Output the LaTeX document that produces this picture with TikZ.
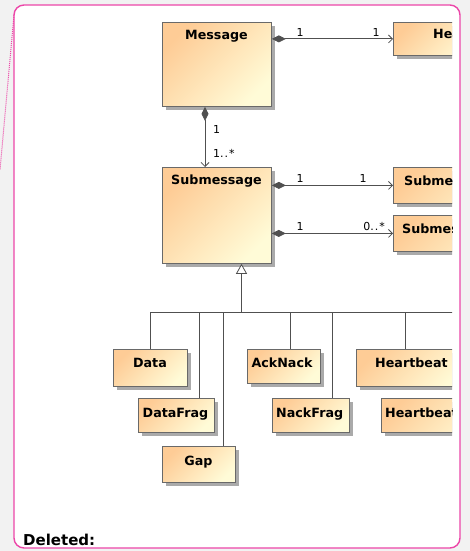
\documentclass[tikz,border=0pt]{standalone}
\usepackage{fontspec}
\setmainfont{DejaVu Sans}
\usetikzlibrary{arrows.meta,shadows}
\definecolor{boxtop}{RGB}{254,204,150}
\definecolor{boxbot}{RGB}{255,251,215}
\definecolor{boxline}{RGB}{105,105,105}
\definecolor{shad}{RGB}{170,170,170}
\definecolor{conn}{RGB}{80,80,80}
\definecolor{framepink}{RGB}{236,70,168}
\definecolor{outside}{RGB}{242,242,242}
\begin{document}
\begin{tikzpicture}[x=1pt,y=-1pt,
  umlbox/.style={draw=boxline, line width=0.8pt, top color=boxtop, bottom color=boxbot, shading angle=45,
    anchor=north west, inner sep=0pt,
    general shadow={fill=shad, shadow xshift=4pt, shadow yshift=-4pt}},
  boxname/.style={font=\bfseries\fontsize{12.7}{15}\selectfont, inner sep=0pt},
  mult/.style={font=\fontsize{11}{13}\selectfont, inner sep=0pt},
  comp/.style={draw=conn, line width=0.8pt, {Diamond[length=14pt,width=7pt]}-{Straight Barb[length=4pt,width=8pt]}},
  gen/.style={draw=conn, line width=0.8pt, -{Triangle[open,length=10pt,width=11pt,fill=white]}},
  tree/.style={draw=conn, line width=0.8pt}]
\useasboundingbox (0,0) rectangle (470,551);
\fill[outside] (0,0) rectangle (470,551);
\draw[framepink, line width=1.4pt, fill=white, rounded corners=10pt] (14,5) rectangle (460,548);
\draw[framepink, line width=1pt, dash pattern=on 1pt off 1pt] (14,15) -- (0,170);
\begin{scope}
\clip (0,0) rectangle (452,551);
% boxes
\node[umlbox, minimum width=109pt, minimum height=84pt] (msg) at (162,22) {};
\node[umlbox, minimum width=90pt, minimum height=33pt] (hdr) at (393,22) {};
\node[umlbox, minimum width=109pt, minimum height=96pt] (sub) at (162,167) {};
\node[umlbox, minimum width=140pt, minimum height=36pt] (sm1) at (393,167) {};
\node[umlbox, minimum width=140pt, minimum height=36pt] (sm2) at (393,215) {};
% tree lines
\coordinate (hub) at (241.5,312);
\coordinate (busend) at (470,312);
\coordinate (dfragc) at (199,398);
\coordinate (gapc) at (223,446);
\coordinate (ackc) at (290,349);
\coordinate (nackc) at (332,398);
\coordinate (hbc) at (405,349);
\coordinate (datac) at (150,349);
\draw[tree] (datac) -- (datac |- hub) -- (busend);
\draw[tree] (dfragc) -- (dfragc |- hub);
\draw[tree] (gapc) -- (gapc |- hub);
\draw[tree] (ackc) -- (ackc |- hub);
\draw[tree] (nackc) -- (nackc |- hub);
\draw[tree] (hbc) -- (hbc |- hub);
\draw[gen] (hub) -- (hub |- sub.south);
% child boxes
\node[umlbox, minimum width=74pt, minimum height=37pt] (data) at (113,349) {};
\node[umlbox, minimum width=76pt, minimum height=34pt] (dfrag) at (138,398) {};
\node[umlbox, minimum width=73pt, minimum height=36pt] (gap) at (162,446) {};
\node[umlbox, minimum width=73pt, minimum height=34pt] (ack) at (247,349) {};
\node[umlbox, minimum width=77pt, minimum height=34pt] (nack) at (272,398) {};
\node[umlbox, minimum width=110pt, minimum height=37pt] (hb) at (356,349) {};
\node[umlbox, minimum width=120pt, minimum height=34pt] (hbf) at (381,398) {};
% names
\node[boxname, anchor=base] (msgt) at (216.5,40) {Message};
\node[boxname, anchor=base west] (hdrt) at (433,38) {Header};
\node[boxname, anchor=base] (subt) at (216.5,184) {Submessage};
\node[boxname, anchor=base west] (sm1t) at (404,185) {Submessage};
\node[boxname, anchor=base west] (sm2t) at (402,233) {Submessage};
\node[boxname, anchor=base] (datat) at (150,367) {Data};
\node[boxname, anchor=base] (dfragt) at (175.5,417) {DataFrag};
\node[boxname, anchor=base] (gapt) at (198.5,465) {Gap};
\node[boxname, anchor=base] (ackt) at (282,367) {AckNack};
\node[boxname, anchor=base] (nackt) at (309.7,417) {NackFrag};
\node[boxname, anchor=base west] (hbt) at (375,367) {Heartbeat};
\node[boxname, anchor=base west] (hbft) at (385,417) {Heartbeat};
% associations
\draw[comp] (msg.east |- hdr.west) -- (hdr.west);
\draw[comp] (sub.east |- sm1.west) -- (sm1.west);
\draw[comp] (sub.east |- sm2.west) -- (sm2.west);
\draw[comp] ([xshift=43pt]msg.south west) -- ([xshift=43pt]sub.north west);
% multiplicities
\node[mult, anchor=base] (m1) at (300,37) {1};
\node[mult, anchor=base] (m2) at (376,37) {1};
\node[mult, anchor=base] (m3) at (300,182) {1};
\node[mult, anchor=base] (m4) at (363,182) {1};
\node[mult, anchor=base] (m5) at (300,230) {1};
\node[mult, anchor=base east] (m6) at (385,230) {0.\kern1pt.\kern1pt*};
\node[mult, anchor=base west] (m7) at (213,133) {1};
\node[mult, anchor=base west] (m8) at (213,157) {1.\kern1pt.\kern1pt*};
\end{scope}
\node[anchor=base west, font=\bfseries\fontsize{15}{18}\selectfont, inner sep=0pt] (del) at (23,545) {Deleted:};
\end{tikzpicture}
\end{document}
